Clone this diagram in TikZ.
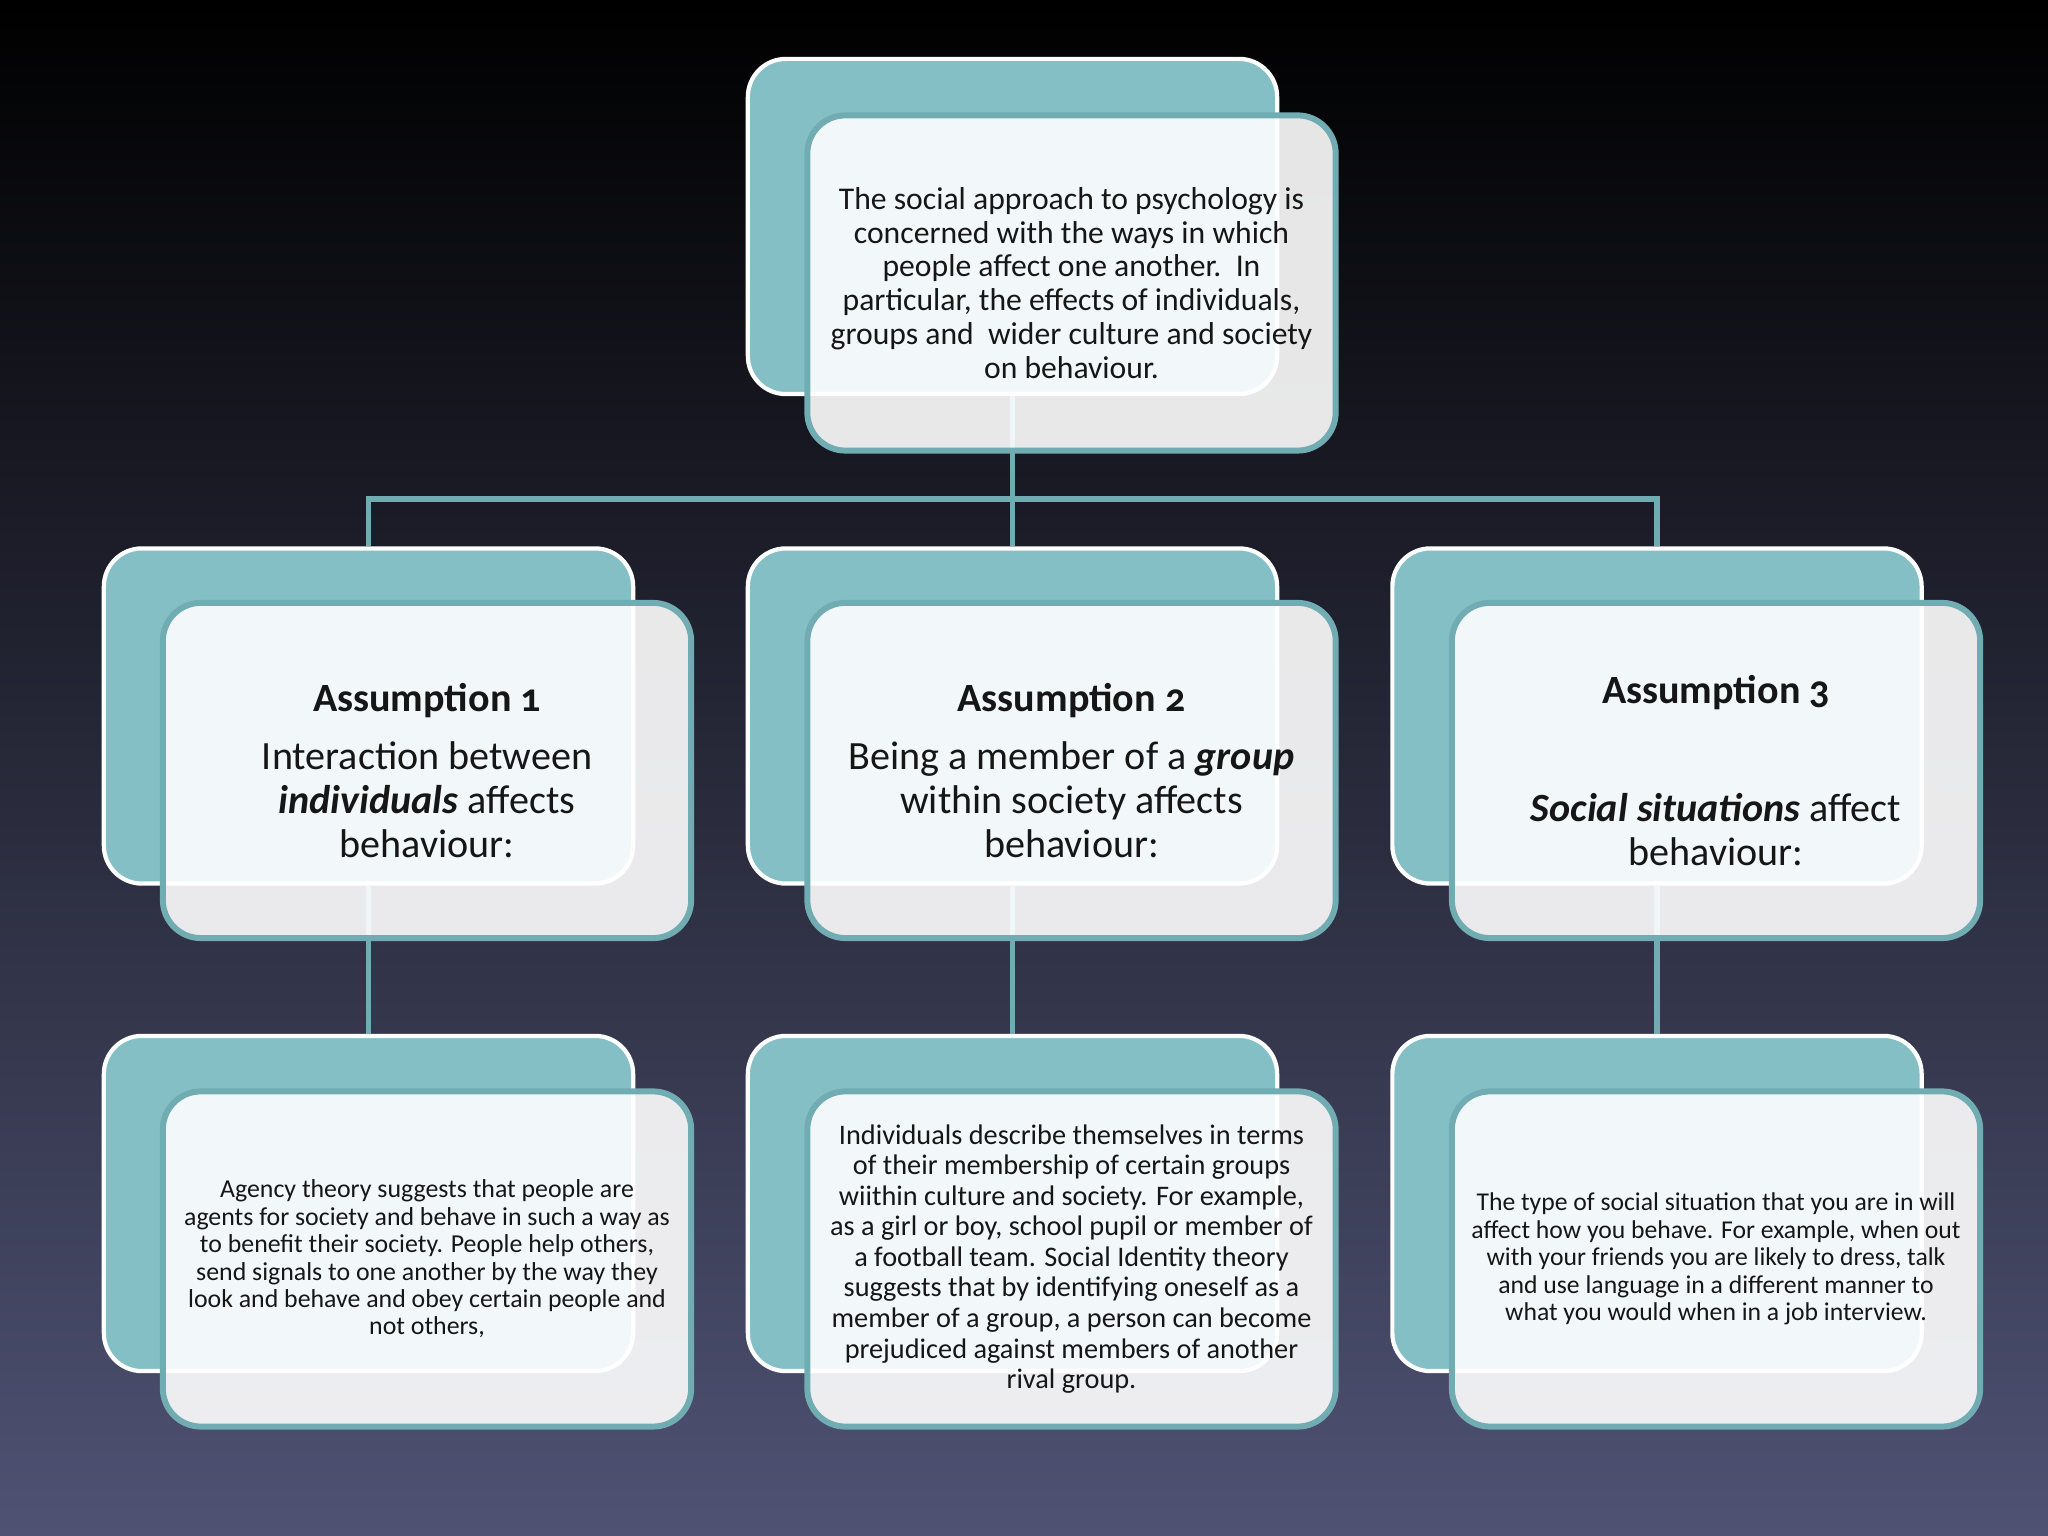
\documentclass[tikz,border=0pt]{standalone}
\usepackage{fontspec}
\setmainfont{Carlito}[Numbers=OldStyle]
\definecolor{tealfill}{HTML}{84BFC6}
\definecolor{tealline}{HTML}{70ACB2}
\definecolor{bgbot}{HTML}{4F5273}
\definecolor{bgmid}{HTML}{22222C}
\definecolor{txt}{HTML}{161616}
\begin{document}
\begin{tikzpicture}[x=0.01cm,y=0.01cm,
 backbox/.style={draw=white, line width=1.2pt, fill=tealfill, rounded corners=0.38cm,
   minimum width=5.29cm, minimum height=3.35cm, inner sep=0pt},
 frontbox/.style={draw=tealline, line width=1.7pt, fill=white, fill opacity=0.9,
   text opacity=1, rounded corners=0.38cm, minimum width=5.28cm, minimum height=3.35cm,
   inner sep=0pt, align=center, text=txt},
 conn/.style={draw=tealline, line width=1.5pt},
 topfont/.style={font=\fontsize{9}{9.6}\selectfont},
 midfont/.style={font=\fontsize{11.4}{12.5}\selectfont},
 leftfont/.style={font=\fontsize{7.35}{7.8}\selectfont},
 cfont/.style={font=\fontsize{8.05}{8.7}\selectfont},
 rightfont/.style={font=\fontsize{7.3}{7.8}\selectfont}
]
\useasboundingbox (0,0) rectangle (2048,1536);
\shade[top color=black, middle color=bgmid, bottom color=bgbot] (0,0) rectangle (2048,1536);

% back boxes
\node[backbox] (t)  at (1012.5,1309.5) {};
\node[backbox] (a1) at (368.5,820) {};
\node[backbox] (a2) at (1012.5,820) {};
\node[backbox] (a3) at (1657,820) {};
\node[backbox] (b1) at (368.5,332.5) {};
\node[backbox] (b2) at (1012.5,332.5) {};
\node[backbox] (b3) at (1657,332.5) {};

% connectors
\coordinate (hub) at (1012.5,1037);
\draw[conn] (t.south) -- (hub);
\draw[conn] (a1.north) |- (hub) -| (a3.north);
\draw[conn] (hub) -- (a2.north);
\draw[conn] (a1.south) -- (b1.north);
\draw[conn] (a2.south) -- (b2.north);
\draw[conn] (a3.south) -- (b3.north);

% front boxes
\node[frontbox, topfont] (tf) at (1071.5,1253) {The social approach to psychology is\\
concerned with the ways in which\\
people affect one another.\ \ In\\
particular, the effects of individuals,\\
groups and\ \ wider culture and society\\
on behaviour.};

\node[frontbox, midfont] (a1f) at (427,765.5) {\textbf{Assumption 1}\\[3.9pt]
Interaction between\\
\textbf{\textit{individuals}} affects\\
behaviour:};

\node[frontbox, midfont] (a2f) at (1071.5,765.5) {\textbf{Assumption 2}\\[3.9pt]
Being a member of a \textbf{\textit{group}}\\
within society affects\\
behaviour:};

\node[frontbox, midfont] (a3f) at (1716,765.5) {\textbf{Assumption 3}\\[21.3pt]
\textbf{\textit{Social situations}} affect\\
behaviour:};

\node[frontbox, leftfont] (b1f) at (427,277) {Agency theory suggests that people are\\
agents for society and behave in such a way as\\
to benefit their society. People help others,\\
send signals to one another by the way they\\
look and behave and obey certain people and\\
not others,};

\node[frontbox, cfont] (b2f) at (1071.5,277) {Individuals describe themselves in terms\\
of their membership of certain groups\\
wiithin culture and society. For example,\\
as a girl or boy, school pupil or member of\\
a football team. Social Identity theory\\
suggests that by identifying oneself as a\\
member of a group, a person can become\\
prejudiced against members of another\\
rival group.};

\node[frontbox, rightfont] (b3f) at (1716,277) {The type of social situation that you are in will\\
affect how you behave. For example, when out\\
with your friends you are likely to dress, talk\\
and use language in a different manner to\\
what you would when in a job interview.};
\end{tikzpicture}
\end{document}
